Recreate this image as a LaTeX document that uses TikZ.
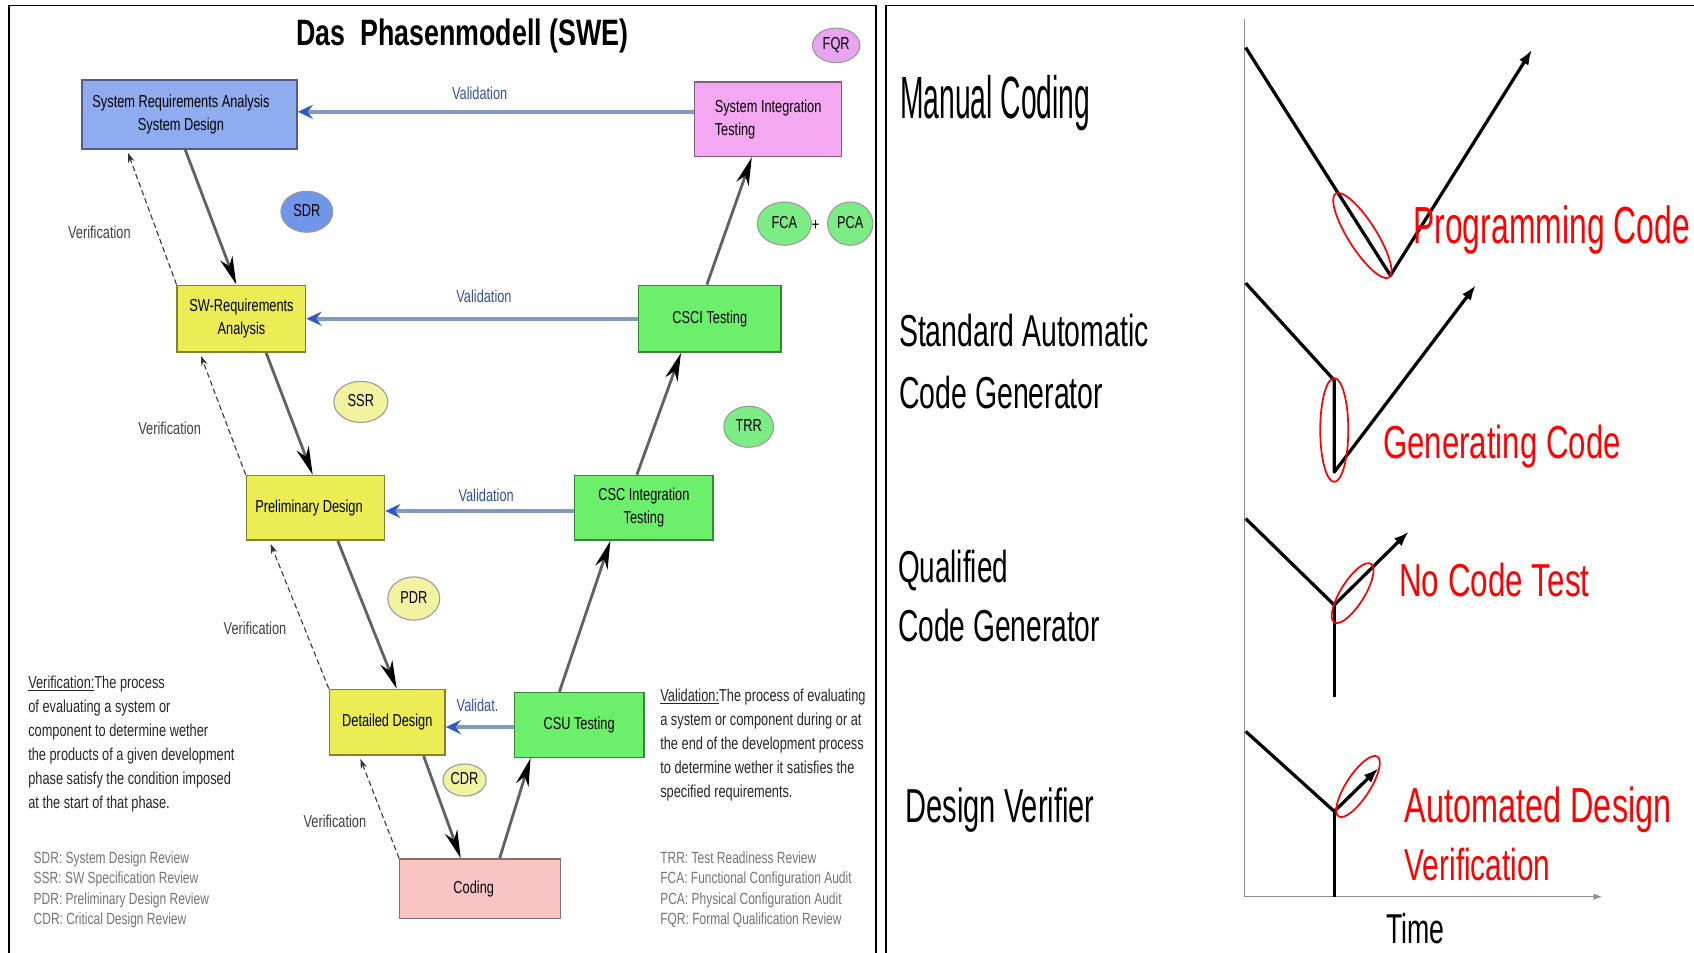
\documentclass[tikz,border=0pt]{standalone}
\usepackage{fontspec}
\setmainfont{Liberation Sans}
\usetikzlibrary{arrows.meta,calc,shapes.geometric}

\definecolor{boxblue}{RGB}{143,172,240}
\definecolor{boxpink}{RGB}{244,168,242}
\definecolor{boxyellow}{RGB}{236,236,84}
\definecolor{boxgreen}{RGB}{108,240,108}
\definecolor{boxrose}{RGB}{250,196,196}
\definecolor{ovblue}{RGB}{112,150,234}
\definecolor{ovpink}{RGB}{232,164,240}
\definecolor{ovgreen}{RGB}{124,236,132}
\definecolor{ovyellow}{RGB}{242,242,160}
\definecolor{valline}{RGB}{128,154,194}
\definecolor{valhead}{RGB}{46,90,200}
\definecolor{valtext}{RGB}{50,80,170}

% condensed text helpers
\newcommand{\ltab}[2][c]{\scalebox{0.74}[1]{\begin{tabular}{@{}#1@{}}#2\end{tabular}}}
\newcommand{\ltabt}[1]{\scalebox{0.74}[1]{\begin{tabular}[t]{@{}l@{}}#1\end{tabular}}}
\newcommand{\fitto}[3]{\resizebox{#1pt}{#2pt}{#3}}

\tikzset{
  phase/.style={draw=#1!55!black, fill=#1, line width=1.3pt, inner sep=0pt},
  review/.style={ellipse, draw=black!40, fill=#1, line width=1pt, inner sep=0pt},
  down/.style={draw=black!62, line width=2.6pt,
    -{Stealth[length=26pt,width=12pt,inset=8pt,color=black]}},
  verif/.style={draw=black!80, line width=1pt, dash pattern=on 5pt off 3pt,
    -{Stealth[length=9pt,width=6pt]}},
  valid/.style={draw=valline, line width=3.8pt,
    -{Stealth[length=14pt,width=13pt,inset=5pt,color=valhead]}},
  vlabel/.style={text=black!75, inner sep=0pt},
  alabel/.style={text=valtext, inner sep=0pt},
  vline/.style={line width=3pt, line join=round, draw=black},
  vtip/.style={-{Latex[length=14pt,width=10pt]}},
  redring/.style={draw=red, line width=1.6pt},
  rtext/.style={anchor=base west, inner sep=0pt},
}

\begin{document}
\begin{tikzpicture}[x=1pt,y=-1pt,font=\fontsize{16}{21}\selectfont]
\useasboundingbox (0,0) rectangle (1568,882);

% ---------- panel frames ----------
\draw[line width=1.6pt] (8,882) -- (8,5) -- (811,5) -- (811,882);
\draw[line width=1.6pt] (820,882) -- (820,5) -- (1568,5);

% ---------- phase model ----------
\node[anchor=base, inner sep=0pt, font=\fontsize{34}{40}\selectfont\bfseries] (title) at (428,42)
  {\scalebox{0.73}[1]{Das~ Phasenmodell (SWE)}};

\node[phase=boxblue, minimum width=199pt, minimum height=64pt] (sysreq) at (175.5,106)
  {\ltab{System Requirements Analysis\\System Design}\hspace*{16pt}};
\node[phase=boxpink, minimum width=136pt, minimum height=69pt] (sysint) at (711,110.5)
  {\ltab[l]{System Integration\\Testing}};
\node[phase=boxyellow, minimum width=119pt, minimum height=62pt] (swreq) at (223.5,295)
  {\ltab{SW-Requirements\\Analysis}};
\node[phase=boxgreen, minimum width=132pt, minimum height=62pt] (csci) at (657,295)
  {\ltab{CSCI Testing}};
\node[phase=boxyellow, minimum width=128pt, minimum height=60pt] (prelim) at (292,470)
  {\ltab{Preliminary Design}\hspace*{12pt}};
\node[phase=boxgreen, minimum width=128pt, minimum height=60pt] (cscint) at (596,470)
  {\ltab{CSC Integration\\Testing}};
\node[phase=boxyellow, minimum width=107pt, minimum height=61pt] (detail) at (358.5,668.5)
  {\ltab{Detailed Design}};
\node[phase=boxgreen, minimum width=120pt, minimum height=60pt] (csu) at (536,671)
  {\ltab{CSU Testing}};
\node[phase=boxrose, minimum width=149pt, minimum height=55pt] (coding) at (444.5,822.5)
  {\ltab{Coding}\hspace*{12pt}};

% review milestones
\node[review=ovpink, minimum width=44pt, minimum height=32pt] (fqr) at (774,42) {\ltab{FQR}};
\node[review=ovblue, minimum width=48pt, minimum height=38pt] (sdr) at (284,196) {\ltab{SDR}};
\node[review=ovgreen, minimum width=50pt, minimum height=40pt] (fca) at (726,207) {\ltab{FCA}};
\node[inner sep=0pt] (plus) at (755,209) {\ltab{+}};
\node[review=ovgreen, minimum width=42pt, minimum height=40pt] (pca) at (787,207) {\ltab{PCA}};
\node[review=ovyellow, minimum width=50pt, minimum height=38pt] (ssr) at (334,372) {\ltab{SSR}};
\node[review=ovgreen, minimum width=46pt, minimum height=38pt] (trr) at (693,395) {\ltab{TRR}};
\node[review=ovyellow, minimum width=48pt, minimum height=40pt] (pdr) at (383,554) {\ltab{PDR}};
\node[review=ovyellow, minimum width=40pt, minimum height=26pt] (cdr) at (430,722) {\ltab{CDR}};

% development path (down) and test path (up)
\draw[down] ($(sysreq.south west)!0.48!(sysreq.south east)$) -- ($(swreq.north west)!0.46!(swreq.north east)$);
\draw[down] ($(swreq.south west)!0.69!(swreq.south east)$) -- ($(prelim.north west)!0.48!(prelim.north east)$);
\draw[down] ($(prelim.south west)!0.66!(prelim.south east)$) -- ($(detail.north west)!0.58!(detail.north east)$);
\draw[down] ($(detail.south west)!0.81!(detail.south east)$) -- ($(coding.north west)!0.38!(coding.north east)$);
\draw[down] ($(coding.north west)!0.62!(coding.north east)$) -- ($(csu.south west)!0.13!(csu.south east)$);
\draw[down] ($(csu.north west)!0.35!(csu.north east)$) -- ($(cscint.south west)!0.26!(cscint.south east)$);
\draw[down] ($(cscint.north west)!0.45!(cscint.north east)$) -- ($(csci.south west)!0.30!(csci.south east)$);
\draw[down] ($(csci.north west)!0.48!(csci.north east)$) -- ($(sysint.south west)!0.39!(sysint.south east)$);

% verification (dashed)
\draw[verif, shorten >=3pt] (swreq.north west) -- ($(sysreq.south west)!0.21!(sysreq.south east)$);
\draw[verif, shorten >=3pt] (prelim.north west) -- ($(swreq.south west)!0.18!(swreq.south east)$);
\draw[verif, shorten >=3pt] (detail.north west) -- ($(prelim.south west)!0.17!(prelim.south east)$);
\draw[verif, shorten >=3pt] (coding.north west) -- ($(detail.south west)!0.26!(detail.south east)$);

\node[vlabel] (ver1) at (92,217) {\ltab{Verification}};
\node[vlabel] (ver2) at (157,398) {\ltab{Verification}};
\node[vlabel] (ver3) at (236,583) {\ltab{Verification}};
\node[vlabel] (ver4) at (310,762) {\ltab{Verification}};

% validation (horizontal)
\draw[valid] ([yshift=7pt]sysint.west) -- ([yshift=2.5pt]sysreq.east);
\draw[valid] (csci.west) -- (swreq.east);
\draw[valid] ([yshift=-3pt]cscint.west) -- ([yshift=-3pt]prelim.east);
\draw[valid] ([yshift=-2pt]csu.west) -- ([yshift=-4.5pt]detail.east);

\node[alabel] (val1) at (444,88) {\ltab{Validation}};
\node[alabel] (val2) at (448,276) {\ltab{Validation}};
\node[alabel] (val3) at (450,460) {\ltab{Validation}};
\node[alabel] (val4) at (442,654) {\ltab{Validat.}};

% definitions and abbreviations
\node[anchor=base west, inner sep=0pt, text=black!85, font=\fontsize{16}{22.2}\selectfont] (verdef) at (26,637)
  {\ltabt{\underline{Verification:}The process\\
   of evaluating a system or\\
   component to determine wether\\
   the products of a given development\\
   phase satisfy the condition imposed\\
   at the start of that phase.}};
\node[anchor=base west, inner sep=0pt, text=black!85, font=\fontsize{16}{22.4}\selectfont] (valdef) at (611,649)
  {\ltabt{\underline{Validation:}The process of evaluating\\
   a system or component during or at\\
   the end of the development process\\
   to determine wether it satisfies the\\
   specified requirements.}};
\node[anchor=base west, inner sep=0pt, text=black!55, font=\fontsize{15}{19}\selectfont] (abbl) at (31,799)
  {\ltabt{SDR: System Design Review\\
   SSR: SW Specification Review\\
   PDR: Preliminary Design Review\\
   CDR: Critical Design Review}};
\node[anchor=base west, inner sep=0pt, text=black!55, font=\fontsize{15}{19}\selectfont] (abbr) at (611,799)
  {\ltabt{TRR: Test Readiness Review\\
   FCA: Functional Configuration Audit\\
   PCA: Physical Configuration Audit\\
   FQR: Formal Qualification Review}};

% ---------- code generation comparison ----------
\draw[line width=1.2pt, draw=black!45, -{Latex[length=8pt,width=6pt]}] (1152,18) -- (1152,830) -- (1483,830);
\node[anchor=base, inner sep=0pt] (time) at (1310,873) {\fitto{54}{28}{Time}};

\node[rtext] (l1) at (833,110) {\fitto{176}{40}{Manual Coding}};
\node[rtext] (l2a) at (832,321) {\fitto{231}{30}{Standard Automatic}};
\node[rtext] (l2b) at (832,378) {\fitto{189}{30}{Code Generator}};
\node[rtext] (l3a) at (831,539) {\fitto{102}{30}{Qualified}};
\node[rtext] (l3b) at (831,594) {\fitto{187}{30}{Code Generator}};
\node[rtext] (l4) at (838,761) {\fitto{175}{32}{Design Verifier}};

% manual coding
\draw[vline, vtip] (1153,44) -- (1287,255) -- (1418,46);
\draw[redring, rotate around={-57.6:(1261,218)}] (1261,218) ellipse [x radius=46pt, y radius=13pt];
\node[rtext, text=red] (r1) at (1308,225) {\fitto{256}{35}{Programming Code}};

% standard generator
\draw[vline, vtip] (1153,262) -- (1235,352) -- (1235,437) -- (1366,264);
\draw[redring] (1235,398) ellipse [x radius=13pt, y radius=48pt];
\node[rtext, text=red] (r2) at (1280,424) {\fitto{220}{31}{Generating Code}};

% qualified generator
\draw[vline, vtip] (1153,480) -- (1235,560) -- (1304,492);
\draw[vline] (1235,560) -- (1235,645);
\draw[redring, rotate around={58:(1252,549)}] (1252,549) ellipse [x radius=32pt, y radius=11pt];
\node[rtext, text=red] (r3) at (1295,552) {\fitto{176}{31}{No Code Test}};

% design verifier
\draw[vline, vtip] (1153,677) -- (1235,751) -- (1276,711);
\draw[vline] (1235,751) -- (1235,830);
\draw[redring, rotate around={57:(1257,728)}] (1257,728) ellipse [x radius=33pt, y radius=11pt];
\node[rtext, text=red] (r4a) at (1300,761) {\fitto{247}{33}{Automated Design}};
\node[rtext, text=red] (r4b) at (1300,815) {\fitto{135}{30}{Verification}};

\end{tikzpicture}
\end{document}
